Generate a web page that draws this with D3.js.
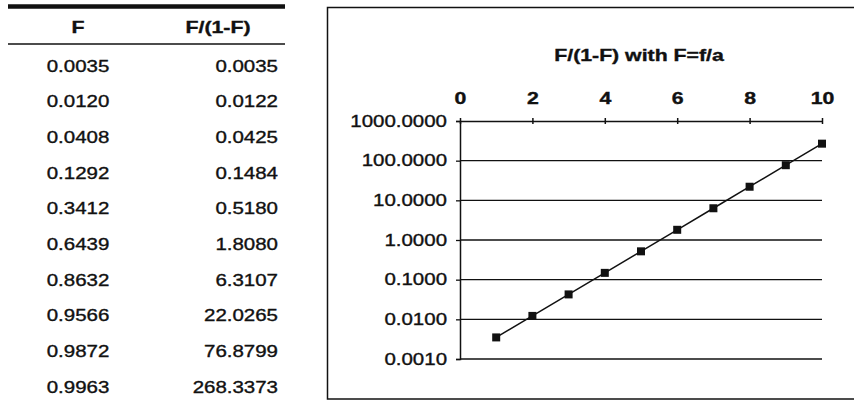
<!DOCTYPE html>
<html>
<head>
<meta charset="utf-8">
<script src="https://cdn.jsdelivr.net/npm/d3@7"></script>
<style>
  html, body { margin: 0; padding: 0; background: #fff; }
  svg { display: block; }
  text { font-family: "Liberation Sans", Arial, Helvetica, sans-serif; fill: #111; stroke: #111; stroke-width: 0.35px; }
</style>
</head>
<body>
<svg id="fig" width="854" height="402"></svg>
<script>
// Time steps t = 1..10 (the x values of the plotted series)
const steps = [1, 2, 3, 4, 5, 6, 7, 8, 9, 10];
// Cumulative fraction F = f/a at each step
const fractions = [0.0035, 0.0120, 0.0408, 0.1292, 0.3412, 0.6439, 0.8632, 0.9566, 0.9872, 0.9963];
// Odds F/(1-F) at each step
const odds = [0.0035, 0.0122, 0.0425, 0.1484, 0.5180, 1.8080, 6.3107, 22.0265, 76.8799, 268.3373];
// Table headings
const tableHeads = ["F", "F/(1-F)"];
// Axis ticks
const xTicks = [0, 2, 4, 6, 8, 10];
const yTicks = [0.001, 0.01, 0.1, 1, 10, 100, 1000];
const chartTitle = "F/(1-F) with F=f/a";

const svg = d3.select("#fig");
const fmt4 = d3.format(".4f");
const SX = 1.28;       // horizontal stretch of the typeface
const SXB = 1.33;      // stretch for bold text
const ink = "#111";

// ---------- Table ----------
const table = svg.append("g");
const rowY = d3.scalePoint().domain(d3.range(fractions.length)).range([66, 387]);
const colF = 78, colOddsRight = 278, colOddsHead = 218;

table.append("line").attr("x1", 8).attr("x2", 285).attr("y1", 6.5).attr("y2", 6.5)
  .attr("stroke", ink).attr("stroke-width", 4.5);
table.append("line").attr("x1", 8).attr("x2", 285).attr("y1", 44).attr("y2", 44)
  .attr("stroke", ink).attr("stroke-width", 1.3);

[[colF, tableHeads[0]], [colOddsHead, tableHeads[1]]].forEach(([x, s]) => {
  table.append("text")
    .attr("transform", `translate(${x},27.5) scale(${SXB},1)`)
    .attr("text-anchor", "middle").attr("dy", "0.36em")
    .style("font-size", "16px").style("font-weight", "bold")
    .text(s);
});

table.selectAll("text.f").data(fractions).join("text")
  .attr("class", "f")
  .attr("transform", (d, i) => `translate(${colF},${rowY(i)}) scale(${SX},1)`)
  .attr("text-anchor", "middle").attr("dy", "0.36em")
  .style("font-size", "16px")
  .text(d => fmt4(d));

table.selectAll("text.o").data(odds).join("text")
  .attr("class", "o")
  .attr("transform", (d, i) => `translate(${colOddsRight},${rowY(i)}) scale(${SX},1)`)
  .attr("text-anchor", "end").attr("dy", "0.36em")
  .style("font-size", "16px")
  .text(d => fmt4(d));

// ---------- Chart ----------
const chart = svg.append("g");
chart.append("rect")
  .attr("x", 327.5).attr("y", 7.5).attr("width", 540).attr("height", 391.5)
  .attr("fill", "none").attr("stroke", ink).attr("stroke-width", 1.5);

chart.append("text")
  .attr("transform", `translate(639,55) scale(${SXB},1)`)
  .attr("text-anchor", "middle").attr("dy", "0.36em")
  .style("font-size", "16px").style("font-weight", "bold")
  .text(chartTitle);

const x = d3.scaleLinear().domain([0, 10]).range([460, 822]);
const y = d3.scaleLog().domain([0.001, 1000]).range([359, 121]);

// horizontal gridlines at each decade
chart.append("g").selectAll("line").data(yTicks.slice(0, -1)).join("line")
  .attr("x1", x(0)).attr("x2", x(10))
  .attr("y1", d => y(d)).attr("y2", d => y(d))
  .attr("stroke", ink).attr("stroke-width", 1.3);

// y axis with decade labels
const yAxis = chart.append("g").attr("transform", `translate(${x(0)},0)`)
  .call(d3.axisLeft(y).tickValues(yTicks).tickFormat(fmt4).tickSize(4).tickPadding(9));
yAxis.select(".domain").attr("stroke", ink).attr("stroke-width", 1.5);
yAxis.selectAll(".tick line").attr("stroke", ink).attr("stroke-width", 1.3);
yAxis.selectAll(".tick text")
  .style("font-size", "16px")
  .attr("fill", ink)
  .attr("transform", `scale(${SX},1)`)
  .attr("x", -13 / SX);

// x axis along the top, cross tick marks
const xAxis = chart.append("g").attr("transform", `translate(0,${y(1000)})`)
  .call(d3.axisTop(x).tickValues(xTicks).tickSizeInner(3).tickSizeOuter(0).tickPadding(14));
xAxis.select(".domain").attr("stroke", ink).attr("stroke-width", 1.5);
xAxis.selectAll(".tick line").attr("y1", 3).attr("y2", -3).attr("stroke", ink).attr("stroke-width", 1.5);
xAxis.selectAll(".tick text")
  .style("font-size", "16px").style("font-weight", "bold")
  .attr("fill", ink)
  .attr("transform", `scale(${SXB},1)`);

// series line and square markers
const pts = steps.map((t, i) => [t, odds[i]]);
chart.append("path")
  .attr("d", d3.line().x(d => x(d[0])).y(d => y(d[1]))(pts))
  .attr("fill", "none").attr("stroke", ink).attr("stroke-width", 1.5);
const m = 8;
chart.append("g").selectAll("rect").data(pts).join("rect")
  .attr("x", d => x(d[0]) - m / 2).attr("y", d => y(d[1]) - m / 2)
  .attr("width", m).attr("height", m).attr("fill", ink);
</script>
</body>
</html>
